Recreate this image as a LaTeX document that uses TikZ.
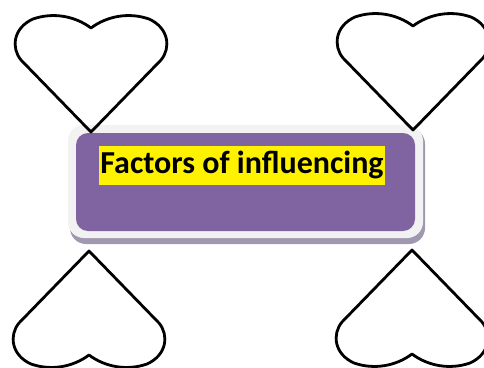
\documentclass[tikz,border=0pt]{standalone}
\usepackage{fontspec}
\setmainfont{Carlito}
\begin{document}
\begin{tikzpicture}[x=1pt,y=-1pt,
  heartline/.style={draw=black,line width=2.8pt,line join=round},
  pics/heart/.style={code={
    \draw[heartline] (0,0) -- (-70,-72) .. controls (-80,-84) and (-78,-104) .. (-58,-113)
      .. controls (-38,-120) and (-16,-116) .. (0,-104)
      .. controls (16,-116) and (38,-120) .. (58,-113)
      .. controls (78,-104) and (80,-84) .. (70,-72) -- cycle;
  }},
  titlebox/.style={fill=yellow,inner xsep=1.5pt,inner ysep=0pt,text height=27pt,text depth=12pt,font=\fontsize{32}{37}\selectfont\bfseries}
]
\useasboundingbox (0,0) rectangle (484,367);
\fill[white] (0,0) rectangle (484,367);
% box with shadow and frame
\fill[rounded corners=16pt,fill={rgb,255:red,160;green,152;blue,176}] (70,128) rectangle (425,244);
\fill[rounded corners=16pt,fill={rgb,255:red,242;green,242;blue,242}] (68,125) rectangle (423,238);
\fill[rounded corners=12pt,fill={rgb,255:red,128;green,100;blue,162}] (76,133) rectangle (415,231);
\node[titlebox] (title) at (242,165.5) {Factors of influencing};
% hearts
\pic (h1) at (91,132) {heart};
\pic (h2) at (413,130) {heart};
\pic[rotate=180] (h3) at (89,251) {heart};
\pic[rotate=180] (h4) at (412,250) {heart};
\end{tikzpicture}
\end{document}
